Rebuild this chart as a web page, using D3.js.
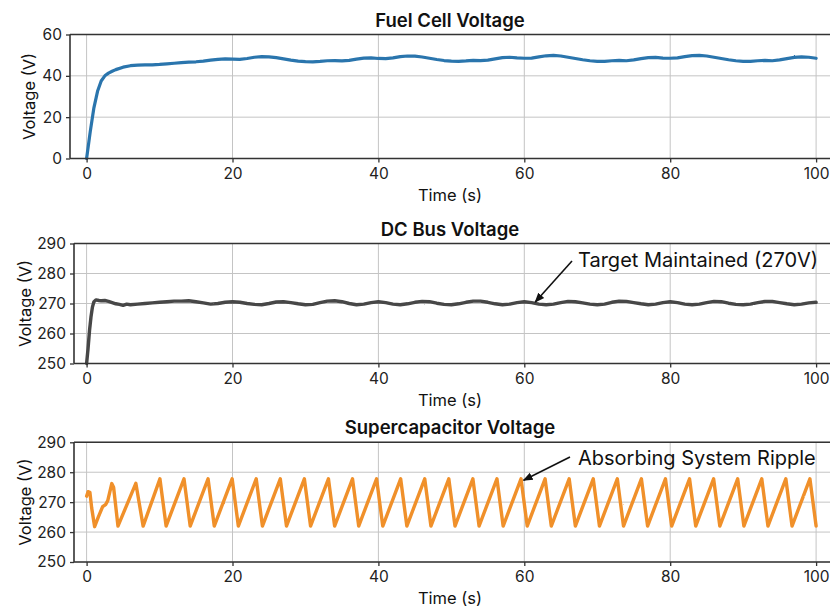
<!DOCTYPE html>
<html>
<head>
<meta charset="utf-8">
<script src="https://cdn.jsdelivr.net/npm/d3@7"></script>
<style>
  html, body { margin: 0; padding: 0; background: #fff; }
  svg { display: block; font-family: Inter, "Noto Sans", sans-serif; }
</style>
</head>
<body>
<svg id="chart" width="830" height="609"></svg>
<script>
// Fuel cell stack voltage (V) over time (s)
const fuelTime = [0, 0.5, 1, 1.5, 2, 2.5, 3, 3.5, 4, 5, 6, 7, 8, 9, 10, 11, 12, 13, 14, 15, 16, 17, 18, 19, 20,
  21, 22, 23, 24, 25, 26, 27, 28, 29, 30, 31, 32, 33, 34, 35, 36, 37, 38, 39, 40,
  41, 42, 43, 44, 45, 46, 47, 48, 49, 50, 51, 52, 53, 54, 55, 56, 57, 58, 59, 60,
  61, 62, 63, 64, 65, 66, 67, 68, 69, 70, 71, 72, 73, 74, 75, 76, 77, 78, 79, 80,
  81, 82, 83, 84, 85, 86, 87, 88, 89, 90, 91, 92, 93, 94, 95, 96, 97, 98, 99, 100];
const fuelVoltage = [0, 13, 24.5, 32.5, 37.5, 40, 41.3, 42.2, 43, 44.2, 44.9, 45.2, 45.3, 45.3, 45.5, 45.8, 46.1, 46.4, 46.6, 46.8, 47.1, 47.6, 48.0, 48.2, 48.1,
  48.0, 48.4, 49.0, 49.3, 49.2, 48.8, 48.2, 47.6, 47.1, 46.9, 46.8, 47.0, 47.3, 47.4, 47.2, 47.5, 48.1, 48.6, 48.7, 48.4,
  48.3, 48.7, 49.3, 49.6, 49.5, 49.1, 48.5, 47.9, 47.4, 47.1, 47.0, 47.2, 47.5, 47.4, 47.6, 48.2, 48.8, 49.0, 48.7, 48.5,
  48.6, 49.2, 49.7, 49.9, 49.6, 49.0, 48.4, 47.8, 47.3, 47.0, 47.0, 47.3, 47.5, 47.3, 47.7, 48.3, 48.8, 48.9, 48.6, 48.5,
  48.7, 49.3, 49.8, 49.9, 49.6, 49.0, 48.4, 47.8, 47.3, 47.0, 47.0, 47.3, 47.5, 47.3, 47.7, 48.3, 48.9, 49.2, 49.0, 48.5];

// DC bus voltage (V)
const busTime = [0, 0.2, 0.4, 0.6, 0.8, 1.0, 1.3, 1.7, 2, 2.5, 3, 3.5, 4, 4.5, 5, 5.5,
  6, 7, 8, 9, 10, 11, 12, 13, 14, 15, 16, 17, 18, 19, 20,
  21, 22, 23, 24, 25, 26, 27, 28, 29, 30, 31, 32, 33, 34, 35, 36, 37, 38, 39, 40,
  41, 42, 43, 44, 45, 46, 47, 48, 49, 50, 51, 52, 53, 54, 55, 56, 57, 58, 59, 60,
  61, 62, 63, 64, 65, 66, 67, 68, 69, 70, 71, 72, 73, 74, 75, 76, 77, 78, 79, 80,
  81, 82, 83, 84, 85, 86, 87, 88, 89, 90, 91, 92, 93, 94, 95, 96, 97, 98, 99, 100];
const busVoltage = [250, 255, 261, 265.5, 268.8, 270.6, 271.2, 271.0, 270.9, 271.0, 270.7, 270.3, 269.9, 269.7, 269.4, 269.8,
  269.6, 269.8, 270.0, 270.2, 270.4, 270.6, 270.8, 270.8, 270.9, 270.6, 270.2, 269.8, 270.0, 270.4, 270.6,
  270.4, 270.0, 269.7, 269.6, 270.0, 270.5, 270.6, 270.3, 269.9, 269.6, 269.7, 270.3, 270.8, 270.9, 270.6, 270.0, 269.6, 269.8, 270.3, 270.6,
  270.3, 269.8, 269.6, 269.9, 270.4, 270.7, 270.6, 270.1, 269.7, 269.6, 269.9, 270.4, 270.8, 270.8, 270.4, 269.9, 269.6, 269.8, 270.3, 270.6,
  270.3, 269.8, 269.6, 269.8, 270.3, 270.7, 270.6, 270.2, 269.8, 269.6, 269.8, 270.4, 270.8, 270.7, 270.3, 269.9, 269.6, 269.8, 270.3, 270.6,
  270.3, 269.8, 269.6, 269.8, 270.3, 270.7, 270.6, 270.1, 269.7, 269.6, 269.8, 270.3, 270.7, 270.7, 270.3, 269.9, 269.6, 269.8, 270.2, 270.4];

// Supercapacitor voltage (V): charge ramps and fast discharges
const capTime = [0, 0.2, 0.45, 0.7, 1.1, 1.6, 2.2, 2.6, 2.9, 3.45, 3.7, 4.3, 6.75, 7.75,
  10.05, 10.9, 13.35, 14.2, 16.65, 17.5, 19.95, 20.8, 23.25, 24.1, 26.55, 27.4, 29.85, 30.7,
  33.15, 34.0, 36.45, 37.3, 39.75, 40.6, 43.05, 43.9, 46.35, 47.2, 49.65, 50.5, 52.95, 53.8,
  56.25, 57.1, 59.55, 60.4, 62.85, 63.7, 66.15, 67.0, 69.45, 70.3, 72.75, 73.6, 76.05, 76.9,
  79.35, 80.2, 82.65, 83.5, 85.95, 86.8, 89.25, 90.1, 92.55, 93.4, 95.85, 96.7, 99.15, 100];
const capVoltage = [272, 273.5, 273.3, 268, 261.8, 265, 268.5, 269.2, 270.5, 276.2, 275, 262, 276.3, 262,
  277.8, 262, 277.8, 262, 277.8, 262, 277.8, 262, 277.8, 262, 277.8, 262, 277.8, 262,
  277.8, 262, 277.8, 262, 277.8, 262, 277.8, 262, 277.8, 262, 277.8, 262, 277.8, 262,
  277.8, 262, 277.8, 262, 277.8, 262, 277.8, 262, 277.8, 262, 277.8, 262, 277.8, 262,
  277.8, 262, 277.8, 262, 277.8, 262, 277.8, 262, 277.8, 262, 277.8, 262, 277.8, 262];

const timeTicks = [0, 20, 40, 60, 80, 100];
const fuelTicks = [0, 20, 40, 60];
const busTicks = [250, 260, 270, 280, 290];
const capTicks = [250, 260, 270, 280, 290];

const panels = [
  { title: "Fuel Cell Voltage", t: fuelTime, v: fuelVoltage, yDomain: [0, 60], yTicks: fuelTicks,
    color: "#2a75ad", width: 3.2, left: 70, top: 34.5, bottom: 158.5, labelX: 29 },
  { title: "DC Bus Voltage", t: busTime, v: busVoltage, yDomain: [250, 290], yTicks: busTicks,
    color: "#474747", width: 3.4, left: 74, top: 243.5, bottom: 363.5, labelX: 25,
    note: { text: "Target Maintained (270V)", at: [61.5, 270.5], from: [572, 261], tx: 578, ty: 267 } },
  { title: "Supercapacitor Voltage", t: capTime, v: capVoltage, yDomain: [250, 290], yTicks: capTicks,
    color: "#f0902a", width: 3.4, left: 74, top: 442.3, bottom: 562, labelX: 25,
    note: { text: "Absorbing System Ripple", at: [59.9, 277.3], from: [570, 457], tx: 578, ty: 465 } }
];

const svg = d3.select("#chart");
const rightEdge = 833;

const defs = svg.append("defs");
defs.append("marker")
  .attr("id", "arrowhead")
  .attr("viewBox", "0 0 10 10")
  .attr("refX", 9).attr("refY", 5)
  .attr("markerWidth", 10).attr("markerHeight", 10)
  .attr("markerUnits", "userSpaceOnUse")
  .attr("orient", "auto")
  .append("path").attr("d", "M0,1 L10,5 L0,9 Z").attr("fill", "#111");

// slight roughness on the measured traces
const rough = defs.append("filter").attr("id", "rough")
  .attr("x", "-2%").attr("y", "-10%").attr("width", "104%").attr("height", "120%");
rough.append("feTurbulence").attr("type", "fractalNoise").attr("baseFrequency", 0.9)
  .attr("numOctaves", 1).attr("seed", 3).attr("result", "noise");
rough.append("feDisplacementMap").attr("in", "SourceGraphic").attr("in2", "noise")
  .attr("scale", 1.6).attr("xChannelSelector", "R").attr("yChannelSelector", "G");

panels.forEach(p => {
  const x = d3.scaleLinear().domain([0, 100]).range([86.6, 816.1]);
  const y = d3.scaleLinear().domain(p.yDomain).range([p.bottom, p.top]);
  const g = svg.append("g");

  // grid
  g.append("g").selectAll("line").data(timeTicks).join("line")
    .attr("x1", d => x(d)).attr("x2", d => x(d))
    .attr("y1", p.top).attr("y2", p.bottom)
    .attr("stroke", "#c4c4c4").attr("stroke-width", 1);
  g.append("g").selectAll("line").data(p.yTicks).join("line")
    .attr("x1", p.left).attr("x2", rightEdge)
    .attr("y1", d => y(d)).attr("y2", d => y(d))
    .attr("stroke", "#c4c4c4").attr("stroke-width", 1);

  // series
  const pts = p.t.map((t, i) => [t, p.v[i]]);
  g.append("path")
    .datum(pts)
    .attr("fill", "none")
    .attr("stroke", p.color)
    .attr("stroke-width", p.width)
    .attr("stroke-linejoin", "round")
    .attr("stroke-linecap", "round")
    .attr("filter", "url(#rough)")
    .attr("d", d3.line().x(d => x(d[0])).y(d => y(d[1])));

  // axes
  const xAxis = g.append("g").attr("transform", `translate(0,${p.bottom})`)
    .call(d3.axisBottom(x).tickValues(timeTicks).tickSize(4).tickPadding(5).tickFormat(d3.format("d")));
  const yAxis = g.append("g").attr("transform", `translate(${p.left},0)`)
    .call(d3.axisLeft(y).tickValues(p.yTicks).tickSize(4).tickPadding(4).tickFormat(d3.format("d")));
  [xAxis, yAxis].forEach(a => {
    a.select(".domain").remove();
    a.selectAll(".tick line").attr("stroke", "#333").attr("stroke-width", 1.3);
    a.selectAll(".tick text").attr("fill", "#222").style("font-size", "15.5px").style("font-family", "Inter, sans-serif");
  });

  // frame
  g.append("line").attr("x1", p.left).attr("x2", rightEdge).attr("y1", p.top).attr("y2", p.top)
    .attr("stroke", "#333").attr("stroke-width", 1.6);
  g.append("line").attr("x1", p.left).attr("x2", rightEdge).attr("y1", p.bottom).attr("y2", p.bottom)
    .attr("stroke", "#333").attr("stroke-width", 1.6);
  g.append("line").attr("x1", p.left).attr("x2", p.left).attr("y1", p.top).attr("y2", p.bottom)
    .attr("stroke", "#333").attr("stroke-width", 1.6);

  const cx = 450;
  g.append("text").attr("x", cx).attr("y", p.top - 8)
    .attr("text-anchor", "middle").attr("fill", "#111")
    .style("font-size", "18.5px").style("font-weight", 600)
    .text(p.title);
  g.append("text").attr("x", cx).attr("y", p.bottom + 42)
    .attr("text-anchor", "middle").attr("fill", "#111")
    .style("font-size", "16.5px")
    .text("Time (s)");
  g.append("text")
    .attr("transform", `translate(${p.labelX},${(p.top + p.bottom) / 2}) rotate(-90)`)
    .attr("text-anchor", "middle").attr("dy", "0.35em").attr("fill", "#111")
    .style("font-size", "16.5px")
    .text("Voltage (V)");

  if (p.note) {
    const n = p.note;
    const tipX = x(n.at[0]), tipY = y(n.at[1]);
    g.append("line")
      .attr("x1", n.from[0]).attr("y1", n.from[1])
      .attr("x2", tipX).attr("y2", tipY)
      .attr("stroke", "#111").attr("stroke-width", 1.6)
      .attr("marker-end", "url(#arrowhead)");
    g.append("text").attr("x", n.tx).attr("y", n.ty)
      .attr("fill", "#111").style("font-size", "20px")
      .text(n.text);
  }
});
</script>
</body>
</html>
